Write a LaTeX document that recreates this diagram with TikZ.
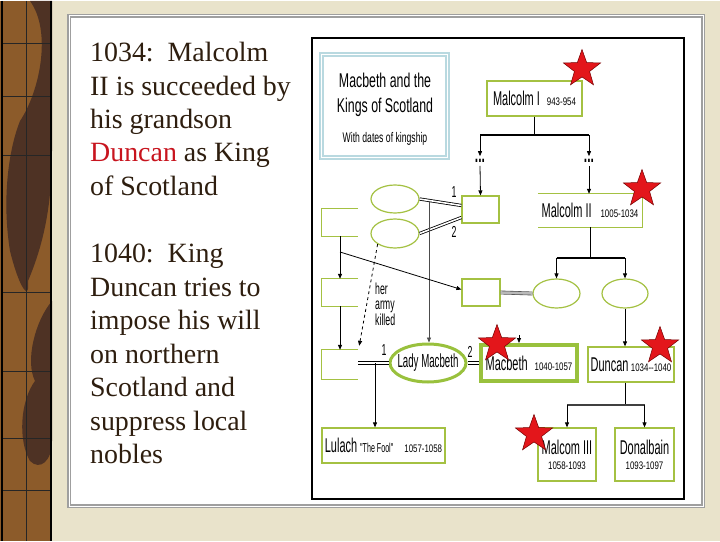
\documentclass[tikz,border=0pt]{standalone}
\usepackage{fontspec}
\setmainfont{Liberation Serif}
\newfontfamily\diafont[FakeStretch=0.55]{Liberation Sans}
\newfontfamily\titlefont[FakeStretch=0.62]{Liberation Sans}
\newfontfamily\datefont[FakeStretch=0.72]{Liberation Sans}
\usetikzlibrary{arrows.meta,positioning,shapes.geometric,calc}
\newcommand{\namefont}{\diafont\fontsize{20}{22}\selectfont}
\newcommand{\datesize}{\datefont\fontsize{11}{13}\selectfont}
\newcommand{\notesize}{\diafont\fontsize{16}{15.5}\selectfont}

\begin{document}
\begin{tikzpicture}[
    x=1bp, y=-1bp,
    every node/.style={inner sep=0pt},
    famline/.style={draw=famgreen, line width=1.2bp},
    kingbox/.style={famline, rectangle},
    openbox/.style={rectangle},
    wedlock/.style={famline, ellipse},
    arr/.style={-{Triangle[length=5bp,width=4bp]}, line width=0.8bp},
    wedline/.style={double=white, double distance=1.6bp, line width=0.8bp},
    crown/.style={star, star points=5, star point ratio=2.45, fill=starred,
      draw=red!45!black, line width=0.5bp, minimum size=39bp},
  ]
    \definecolor{famgreen}{HTML}{A4C142}
    \definecolor{lmgreen}{HTML}{99C13D}
    \definecolor{titlecyan}{HTML}{B9D9E0}
    \definecolor{starred}{HTML}{E3161B}
    \definecolor{inkbrown}{HTML}{2E1E0F}
    \definecolor{dunred}{HTML}{C8141E}
    \definecolor{creambg}{HTML}{E9E3CB}
    \definecolor{stripbrown}{HTML}{8C5B2A}
    \definecolor{stripdark}{HTML}{4E3224}

    % ---- slide background ----
    \fill[creambg] (0,0) rectangle (720,540);
    \fill[stripbrown] (0,0) rectangle (52,540);
    \fill[stripdark] (30,0) .. controls (52,30) and (40,90) .. (20,120)
      .. controls (8,150) and (2,200) .. (10,250) .. controls (20,290) and (30,300) .. (28,280)
      .. controls (45,240) and (52,200) .. (52,150) -- (52,0) -- cycle;
    \fill[stripdark] (52,300) .. controls (35,320) and (25,360) .. (35,380)
      .. controls (20,400) and (18,440) .. (30,460) .. controls (40,470) and (52,460) .. (52,440) -- cycle;
    \foreach \yy in {42,95,154,291,370,437,489}
      \draw[black!85, line width=0.8bp] (2,\yy) -- (51,\yy);
    \draw[black!85, line width=0.8bp] (26,0) -- (26,540);
    \draw[black, line width=2bp] (51,0) -- (51,540);
    \draw[black, line width=1.5bp] (2,0) -- (2,540);

    % ---- white panel ----
    \draw[gray!75, line width=1.5bp, double=white, double distance=1bp, fill=white]
      (69,15) rectangle (703,505);

    % ---- text column ----
    \node[anchor=north west, align=left, text=inkbrown,
      font=\fontsize{28}{33.6}\selectfont] (news1) at (90,41)
      {1034:\hspace{0.5em}Malcolm\\II is succeeded by\\his grandson\\
       \textcolor{dunred}{Duncan} as King\\of Scotland};
    \node[anchor=north west, align=left, text=inkbrown,
      font=\fontsize{28}{33.6}\selectfont] (news2) at (90,243)
      {1040:\hspace{0.5em}King\\Duncan tries to\\impose his will\\
       on northern\\Scotland and\\suppress local\\nobles};

    % ---- family tree ----
    \draw[black, line width=2bp] (312,37) rectangle (684,498);

    \node[draw=titlecyan, line width=2bp, double=white, double distance=1.2bp,
      minimum width=126bp, minimum height=103bp] (title) at (384.5,105) {};
    \node[font=\titlefont\fontsize{20}{22}\selectfont] (tline1) at (385,79) {Macbeth and the};
    \node[font=\titlefont\fontsize{20}{22}\selectfont] (tline2) at (385,106) {Kings of Scotland};
    \node[font=\titlefont\fontsize{14}{16}\selectfont] (tline3) at (385,138) {With dates of kingship};

    \node[kingbox, minimum width=95bp, minimum height=35bp] (malc1) at (534.5,97.5)
      {\namefont Malcolm I\hspace{7bp}\datesize 943-954};
    \node[openbox, minimum width=104bp, minimum height=33bp] (malc2) at (590,209.5)
      {\namefont Malcolm II\hspace{9bp}\datesize 1005-1034};
    \draw[famline] (malc2.north west) -- (malc2.north east) -- (malc2.south east) -- (malc2.south west);

    \node[kingbox, minimum width=37bp, minimum height=27bp] (u1) at (480.5,208.5) {};
    \node[kingbox, minimum width=38bp, minimum height=27bp] (u2) at (481,291.5) {};

    \node[openbox, minimum width=36bp, minimum height=27bp] (L1) at (340,221.5) {};
    \node[openbox, minimum width=36bp, minimum height=27bp] (L2) at (340,291.5) {};
    \node[openbox, minimum width=36bp, minimum height=29bp] (L3) at (340,363.5) {};
    \foreach \b in {L1,L2,L3}
      \draw[famline] (\b.north east) -- (\b.north west) -- (\b.south west) -- (\b.south east);

    \node[wedlock, minimum width=48bp, minimum height=28bp] (e1) at (395,198) {};
    \node[wedlock, minimum width=48bp, minimum height=29bp] (e2) at (395,232.5) {};
    \node[wedlock, minimum width=47bp, minimum height=29bp] (e3) at (556.5,292.5) {};
    \node[wedlock, minimum width=46bp, minimum height=29bp] (e4) at (625,292.5) {};

    \node[draw=lmgreen, line width=3bp, ellipse, minimum width=76bp, minimum height=38bp,
      label={[font=\diafont\fontsize{19}{21}\selectfont, xscale=0.93]center:Lady Macbeth}] (LM) at (428,362) {};
    \node[draw=lmgreen, line width=4bp, minimum width=96bp, minimum height=36bp] (macb)
      at (529,362) {\namefont Macbeth\hspace{7bp}\datesize 1040-1057};
    \node[kingbox, minimum width=86bp, minimum height=35bp] (duncan) at (631,363.5)
      {\namefont Duncan\hspace{2.5bp}\datesize 1034--1040};
    \node[kingbox, minimum width=58bp, minimum height=53bp, align=center] (malc3) at (567,453.5)
      {\namefont Malcom III\\[3bp]\datesize 1058-1093};
    \node[kingbox, minimum width=59bp, minimum height=53bp, align=center] (donal) at (644.5,453.5)
      {\namefont Donalbain\\[3bp]\datesize 1093-1097};
    \node[kingbox, minimum width=123bp, minimum height=35bp] (lulach) at (383.5,444.5)
      {\namefont Lulach\hspace{3bp}{\diafont\fontsize{13}{15}\selectfont "The Fool"}\hspace{11bp}\datesize 1057-1058};

    % Malcolm I's line
    \coordinate (m1fork) at (malc1.south |- 0,134);
    \coordinate (m1L) at (480,134);
    \coordinate (m1R) at (589,134);
    \node[font=\diafont\fontsize{22}{22}\selectfont\bfseries] (gapL) at (480,160) {...};
    \node[font=\diafont\fontsize{22}{22}\selectfont\bfseries] (gapR) at (589,160) {...};
    \draw[line width=0.8bp] (malc1.south) -- (m1fork);
    \draw[line width=2bp] (m1L) -- (m1R);
    \draw[arr] (m1L) -- ($(gapL.north)+(0,-3)$);
    \draw[arr] (m1R) -- ($(gapR.north)+(0,-3)$);
    \draw[arr] ($(gapL.south)+(0,3)$) -- (u1.north);
    \draw[arr] ($(gapR.south)+(0,3)$) -- (gapR.south |- malc2.north);

    % unions at the top left
    \draw[wedline] (e1.east) -- ($(u1.west)+(0,-4)$);
    \draw[wedline] (e2.east) -- ($(u1.west)+(0,8)$);
    \node[font=\notesize] (n1) at (454,191) {1};
    \node[font=\notesize] (n2) at (454,231) {2};
    \coordinate (lmroot) at (429,201);
    \draw[arr, black!70] (lmroot) -- (lmroot |- LM.north);

    % left column
    \draw[arr] (L1.south) -- (L2.north);
    \draw[arr] (L2.south) -- (L3.north);
    \coordinate (L1fork) at (340,251);
    \draw[arr] (L1fork) -- ($(u2.west)+(0,-3)$);
    \draw[arr, dashed] (e2.south west) -- ($(L3.north east)+(1,-4)$);
    \node[font=\notesize, align=left, anchor=west] (kill) at (375,303) {her\\army\\killed};

    % Lady Macbeth's marriages
    \draw[wedline] (LM.west -| L3.east) -- (LM.west);
    \node[font=\notesize] (n3) at (384,349) {1};
    \coordinate (lulroot) at (375,362);
    \draw[arr] (lulroot) -- (lulroot |- lulach.north);
    \draw[wedline] (LM.east) -- (macb.west);
    \node[font=\notesize] (n4) at (470,351) {2};
    \coordinate (mtip) at (519,334);
    \draw[arr] (mtip) -- (mtip |- macb.north);

    % union of the fifth line
    \draw[draw=gray!60!black, line width=0.6bp, double=gray!55, double distance=2.6bp]
      (u2.east) -- (e3.west);

    % Malcolm II's line
    \coordinate (m2fork) at (malc2.south |- 0,257);
    \coordinate (m2L) at (e3.north |- m2fork);
    \coordinate (m2R) at (e4.north |- m2fork);
    \draw[line width=0.8bp] (malc2.south) -- (m2fork);
    \draw[line width=2bp] (m2L) -- (m2R);
    \draw[arr] (m2L) -- (e3.north);
    \draw[arr] (m2R) -- (e4.north);
    \draw[arr] (e4.south) -- (e4.south |- duncan.north);

    % Duncan's sons
    \coordinate (dfork) at (625,404);
    \coordinate (dL) at (malc3.north |- dfork);
    \coordinate (dR) at (donal.north |- dfork);
    \draw[line width=0.8bp] (dfork |- duncan.south) -- (dfork);
    \draw[line width=1.8bp, black!75] (dL) -- (dR);
    \draw[arr] (dL) -- (malc3.north);
    \draw[arr] (dR) -- (donal.north);

    % stars for the kings
    \node[crown] (s1) at (582,68) {};
    \node[crown] (s2) at (642,188) {};
    \node[crown] (s3) at (497,343) {};
    \node[crown] (s4) at (660,345) {};
    \node[crown] (s5) at (534,433) {};
  \end{tikzpicture}
\end{document}
